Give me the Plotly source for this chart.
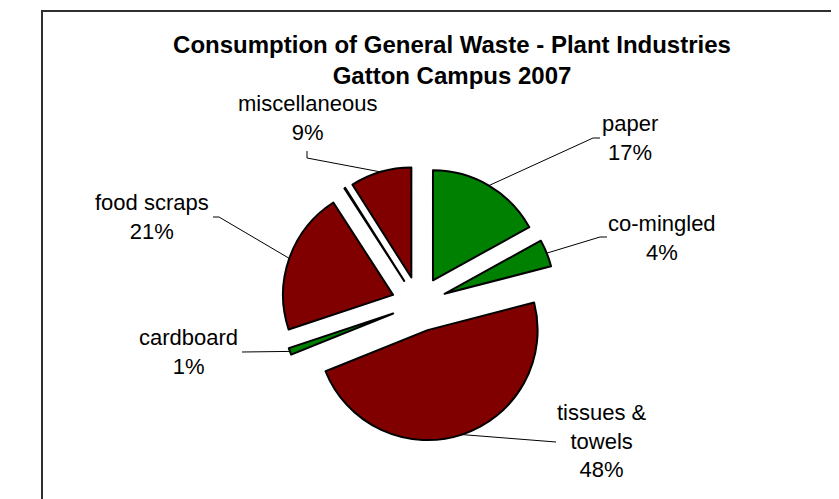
import math
import plotly.graph_objects as go

# ---- data ----
categories = ["paper", "co-mingled", "tissues & towels", "cardboard", "food scraps", "unlabelled", "miscellaneous"]
values = [17, 4, 48, 1, 21, 0.15, 9]
display_names = ["paper", "co-mingled", "tissues &<br>towels", "cardboard", "food scraps", None, "miscellaneous"]
colors = ["#008000", "#008000", "#800000", "#008000", "#800000", "#800000", "#800000"]

# ---- layout constants (page pixels) ----
PAGE_W, PAGE_H = 839, 499
OFF = 8                                  # browser body margin
W, H = PAGE_W - OFF, PAGE_H - OFF        # figure size
CX, CY = 419, 304          # pie centre (page px)
PULL = 0.25
R = 110                    # pie radius
HALF = R * (1 + PULL)      # half domain size so plotly gives radius R

def px(x):
    return (x - OFF) / W

def py(y):
    return 1 - (y - OFF) / H

# label placement (centre of text block) and leader line knee/end points
label_pos = {
    "paper": (630, 138),
    "co-mingled": (662, 238),
    "tissues & towels": (602, 441),
    "cardboard": (188, 352),
    "food scraps": (152, 217),
    "miscellaneous": (307, 118),
}
leader_pts = {
    "paper": [(593, 138), (600, 138)],
    "co-mingled": [(600, 237), (607, 237)],
    "tissues & towels": [(556, 442)],
    "cardboard": [(242, 352)],
    "food scraps": [(219, 217), (213, 217)],
    "miscellaneous": [(307, 158), (307, 151)],
}

fig = go.Figure()
fig.add_trace(go.Pie(
    labels=categories,
    values=values,
    sort=False,
    direction="clockwise",
    rotation=0,
    pull=[PULL] * len(values),
    marker=dict(colors=colors, line=dict(color="black", width=2)),
    textinfo="none",
    hoverinfo="label+percent",
    domain=dict(x=[px(CX - HALF), px(CX + HALF)], y=[py(CY + HALF), py(CY - HALF)]),
    showlegend=False,
))

total = sum(values)
cum = 0.0
shapes = []
annotations = []
for cat, v, name in zip(categories, values, display_names):
    mid = (cum + v / 2) / total * 2 * math.pi
    cum += v
    if name is None:
        continue
    s, c = math.sin(mid), math.cos(mid)
    ex = CX + PULL * R * s
    ey = CY - PULL * R * c
    ax, ay = ex + R * s, ey - R * c
    pts = [(ax, ay)] + leader_pts[cat]
    path = "M " + " L ".join(f"{px(x)},{py(y)}" for x, y in pts)
    shapes.append(dict(type="path", path=path, xref="paper", yref="paper",
                       line=dict(color="black", width=1)))
    lx, ly = label_pos[cat]
    annotations.append(dict(
        text=f"{name}<br>{round(v)}%", x=px(lx), y=py(ly), xref="paper", yref="paper",
        xanchor="center", yanchor="middle", showarrow=False, align="center",
        font=dict(family="Liberation Sans, Arial, sans-serif", size=22, color="black"),
    ))

# outer chart frame (left and top edges visible)
shapes.append(dict(type="line", xref="paper", yref="paper",
                   x0=px(42), x1=px(42), y0=0, y1=py(11),
                   line=dict(color="#303030", width=2)))
shapes.append(dict(type="line", xref="paper", yref="paper",
                   x0=px(41), x1=1, y0=py(11), y1=py(11),
                   line=dict(color="#303030", width=2)))

fig.update_layout(
    width=W, height=H,
    margin=dict(l=0, r=0, t=0, b=0),
    paper_bgcolor="white",
    plot_bgcolor="white",
    title=dict(
        text="<b>Consumption of General Waste - Plant Industries<br>Gatton Campus 2007</b>",
        x=px(452), xanchor="center", y=py(53), yanchor="top",
        font=dict(family="Liberation Sans, Arial, sans-serif", size=24, color="black"),
    ),
    shapes=shapes,
    annotations=annotations,
)

fig.write_html("out.html")
